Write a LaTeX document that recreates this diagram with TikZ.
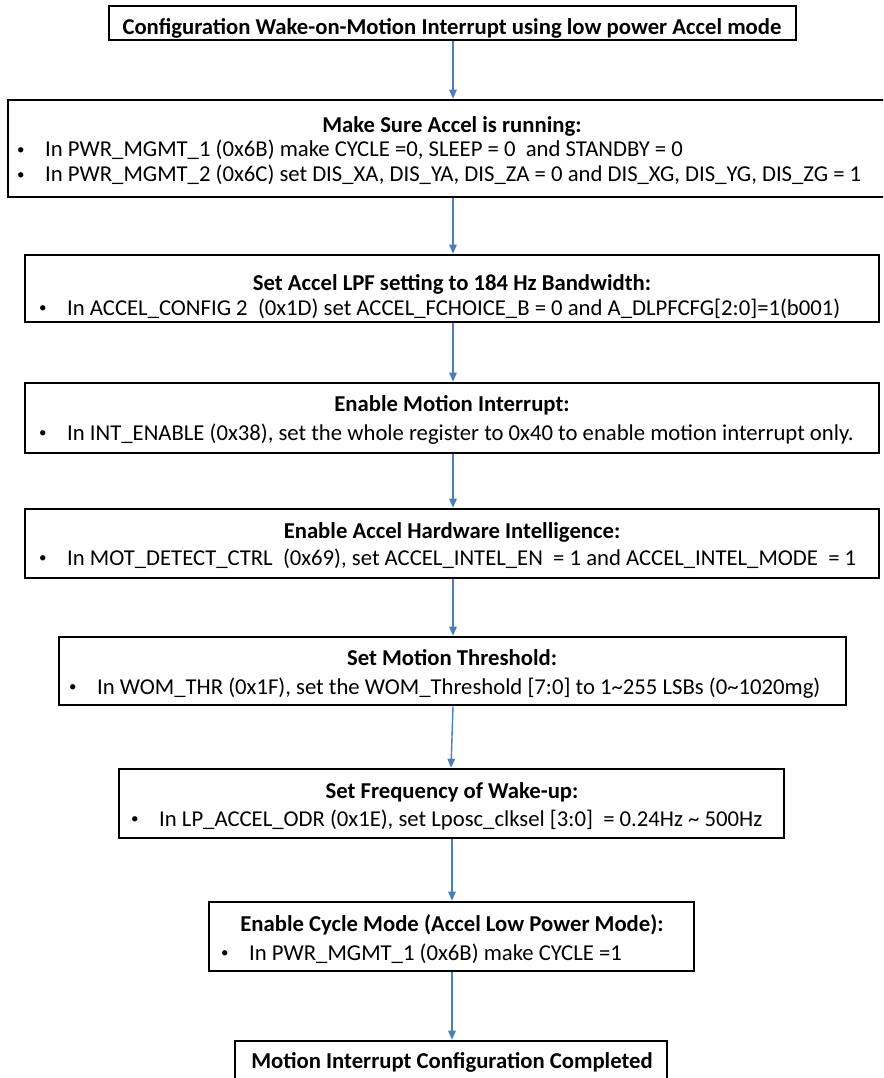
\documentclass[tikz,border=0pt]{standalone}
\usepackage{fontspec}
\setmainfont{Carlito}
\usetikzlibrary{arrows.meta}
\definecolor{linkblue}{RGB}{74,126,187}
\newcommand{\itm}[1]{\makebox[28pt][l]{\fontsize{15}{15}\selectfont\raisebox{2.5pt}{\textbullet}}#1}

\begin{document}
\begin{tikzpicture}[x=1pt,y=-1pt]
\tikzstyle{stepbox}=[draw, line width=2.6pt, inner sep=0pt];
\tikzstyle{head}=[anchor=base, inner sep=0pt, font=\fontsize{22.7}{27}\selectfont\bfseries];
\tikzstyle{item}=[anchor=base west, inner sep=0pt, font=\fontsize{22.7}{27}\selectfont];
\tikzstyle{link}=[draw=linkblue, line width=1.4pt, -{Triangle[length=9pt,width=7.5pt]}];
\clip (0,0) rectangle (883,1078);

% boxes
\draw (452.5,23) node[stepbox, minimum width=687, minimum height=34] (s1) {};
\draw (454,148.5) node[stepbox, minimum width=892, minimum height=97] (s2) {};
\draw (452,288.5) node[stepbox, minimum width=854, minimum height=67] (s3) {};
\draw (452,418) node[stepbox, minimum width=854, minimum height=70] (s4) {};
\draw (452,543.5) node[stepbox, minimum width=854, minimum height=69] (s5) {};
\draw (452.5,671) node[stepbox, minimum width=787, minimum height=68] (s6) {};
\draw (451.5,803.5) node[stepbox, minimum width=665, minimum height=69] (s7) {};
\draw (451.5,936.5) node[stepbox, minimum width=485, minimum height=69] (s8) {};
\draw (451,1070.5) node[stepbox, minimum width=432, minimum height=59] (s9) {};

% texts
\node[head] (t1) at (452,35) {Configuration Wake-on-Motion Interrupt using low power Accel mode};

\node[head] (t2) at (452,133) {Make Sure Accel is running:};
\node[item] (b21) at (17,157) {\itm{In PWR\_MGMT\_1 (0x6B) make CYCLE =0, SLEEP = 0 \ and STANDBY = 0}};
\node[item] (b22) at (17,182) {\itm{In PWR\_MGMT\_2 (0x6C) set DIS\_XA, DIS\_YA, DIS\_ZA = 0 and DIS\_XG, DIS\_YG, DIS\_ZG = 1}};

\node[head] (t3) at (452,290) {Set Accel LPF setting to 184 Hz Bandwidth:};
\node[item] (b3) at (39,315) {\itm{In ACCEL\_CONFIG 2 \ (0x1D) set ACCEL\_FCHOICE\_B = 0 and A\_DLPFCFG[2:0]=1(b001)}};

\node[head] (t4) at (452,411) {Enable Motion Interrupt:};
\node[item] (b4) at (39,440) {\itm{In INT\_ENABLE (0x38), set the whole register to 0x40 to enable motion interrupt only.}};

\node[head] (t5) at (452,538) {Enable Accel Hardware Intelligence:};
\node[item] (b5) at (39,565) {\itm{In MOT\_DETECT\_CTRL \ (0x69), set ACCEL\_INTEL\_EN \ = 1 and ACCEL\_INTEL\_MODE \ = 1}};

\node[head] (t6) at (452,665) {Set Motion Threshold:};
\node[item] (b6) at (69,694) {\itm{In WOM\_THR (0x1F), set the WOM\_Threshold [7:0] to 1\textasciitilde 255 LSBs (0\textasciitilde 1020mg)}};

\node[head] (t7) at (452,798) {Set Frequency of Wake-up:};
\node[item] (b7) at (131,826) {\itm{In LP\_ACCEL\_ODR (0x1E), set Lposc\_clksel [3:0] \ = 0.24Hz \textasciitilde\ 500Hz}};

\node[head] (t8) at (452,931) {Enable Cycle Mode (Accel Low Power Mode):};
\node[item] (b8) at (221,960) {\itm{In PWR\_MGMT\_1 (0x6B) make CYCLE =1}};

\node[head] (t9) at (452,1068) {Motion Interrupt Configuration Completed};

% connectors
\draw[link] (s1.south -| 453,0) -- (s2.north -| 453,0);
\draw[link] (s2.south -| 453,0) -- (s3.north -| 453,0);
\draw[link] (s3.south -| 453,0) -- (s4.north -| 453,0);
\draw[link] (s4.south -| 453,0) -- (s5.north -| 453,0);
\draw[link] (s5.south -| 453,0) -- (s6.north -| 453,0);
\draw[link] (s6.south -| 453,0) -- (s7.north -| 451,0);
\draw[link] (s7.south -| 452,0) -- (s8.north -| 452,0);
\draw[link] (s8.south -| 452,0) -- (s9.north -| 452,0);
\end{tikzpicture}
\end{document}
